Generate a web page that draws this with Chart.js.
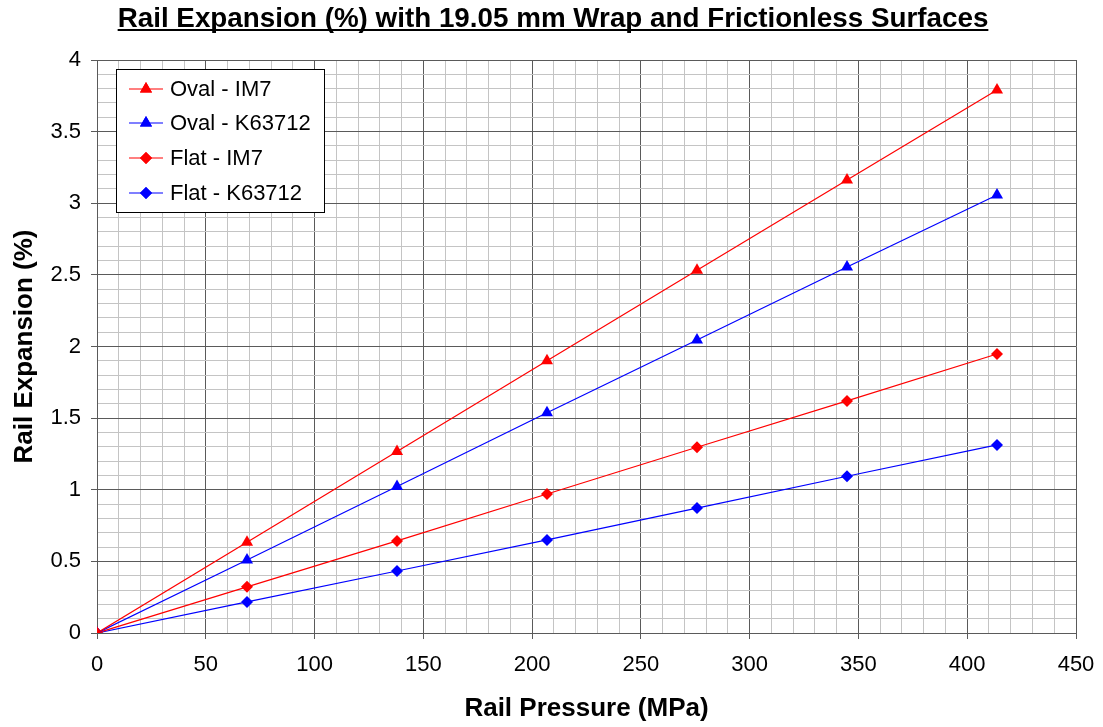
<!DOCTYPE html>
<html>
<head>
<meta charset="utf-8">
<script src="https://cdn.jsdelivr.net/npm/chart.js@4.4.1/dist/chart.umd.min.js"></script>
<style>
html,body{margin:0;padding:0;background:#fff;}
#wrap{width:1103px;height:727px;}
</style>
</head>
<body>
<div id="wrap"><canvas id="c" width="1103" height="727"></canvas></div>
<script>
const pressures = [0, 68.95, 137.9, 206.84, 275.79, 344.74, 413.69];
const ovalIM7 = [0, 0.633, 1.267, 1.90, 2.533, 3.163, 3.79];
const ovalK63712 = [0, 0.51, 1.023, 1.537, 2.045, 2.555, 3.058];
const flatIM7 = [0, 0.322, 0.643, 0.970, 1.297, 1.620, 1.948];
const flatK63712 = [0, 0.217, 0.433, 0.650, 0.872, 1.094, 1.313];
const seriesNames = ['Oval - IM7', 'Oval - K63712', 'Flat - IM7', 'Flat - K63712'];
const titleText = 'Rail Expansion (%) with 19.05 mm Wrap and Frictionless Surfaces';
const xTitle = 'Rail Pressure (MPa)';
const yTitle = 'Rail Expansion (%)';

const FONT = 'Liberation Sans, Arial, sans-serif';
function pts(arr){ return arr.map((v,i)=>({x:pressures[i], y:v})); }
function ds(label, data, color, style){
  return {label, data: pts(data), borderColor: color, backgroundColor: color,
    borderWidth: 1.2, pointStyle: style, pointRadius: style==='triangle'?7:6,
    pointBorderWidth: 0, pointHoverRadius: 6, tension: 0, fill: false};
}

const legendPlugin = {
  id: 'boxLegend',
  afterDatasetsDraw(chart){
    const ctx = chart.ctx;
    const x0 = 116, y0 = 69, w = 208, h = 143;
    ctx.save();
    ctx.fillStyle = '#fff';
    ctx.fillRect(x0, y0, w, h);
    ctx.strokeStyle = '#000';
    ctx.lineWidth = 1;
    ctx.strokeRect(x0+0.5, y0+0.5, w, h);
    const ys = [89, 123, 158, 193];
    chart.data.datasets.forEach((d, i) => {
      const y = ys[i];
      ctx.strokeStyle = d.borderColor;
      ctx.lineWidth = 1.2;
      ctx.beginPath(); ctx.moveTo(129, y); ctx.lineTo(163, y); ctx.stroke();
      ctx.fillStyle = d.backgroundColor;
      Chart.helpers.drawPoint(ctx, {pointStyle: d.pointStyle, radius: d.pointRadius, borderWidth: 0}, 146, y);
      ctx.fill();
      ctx.fillStyle = '#000';
      ctx.font = '22px ' + FONT;
      ctx.textBaseline = 'middle';
      ctx.textAlign = 'left';
      ctx.fillText(d.label, 170, y + 1);
    });
    ctx.restore();
  }
};

const titlePlugin = {
  id: 'ulTitle',
  afterDraw(chart){
    const ctx = chart.ctx;
    ctx.save();
    ctx.font = 'bold 27.8px ' + FONT;
    ctx.fillStyle = '#000';
    ctx.textAlign = 'center';
    ctx.textBaseline = 'alphabetic';
    const cx = 553, by = 27;
    ctx.fillText(titleText, cx, by);
    const tw = ctx.measureText(titleText).width;
    ctx.fillRect(cx - tw/2, by + 2, tw, 2);
    ctx.restore();
  }
};

new Chart(document.getElementById('c'), {
  type: 'line',
  data: { datasets: [
    ds(seriesNames[0], ovalIM7, '#ff0000', 'triangle'),
    ds(seriesNames[1], ovalK63712, '#0000ff', 'triangle'),
    ds(seriesNames[2], flatIM7, '#ff0000', 'rectRot'),
    ds(seriesNames[3], flatK63712, '#0000ff', 'rectRot')
  ]},
  options: {
    responsive: false,
    animation: false,
    layout: { padding: { top: 60, right: 27, left: 0, bottom: 0 } },
    plugins: { legend: { display: false }, title: { display: false }, tooltip: { enabled: false } },
    scales: {
      x: {
        type: 'linear', min: 0, max: 450,
        afterFit(s){ s.height = 94; s.paddingRight = 0; s.paddingLeft = 0; },
        ticks: { stepSize: 10, autoSkip: false, maxRotation: 0, color: '#000',
          font: { family: FONT, size: 22 }, padding: 13,
          callback: v => (Math.round(v) % 50 === 0 ? String(Math.round(v)) : '') },
        grid: { color: c => (Math.round(c.tick.value) % 50 === 0 ? '#5a5a5a' : '#c4c4c4'),
          lineWidth: 1, tickLength: 6,
          tickColor: c => (Math.round(c.tick.value) % 50 === 0 ? '#5a5a5a' : 'rgba(0,0,0,0)') },
        border: { color: '#5a5a5a', width: 1 },
        title: { display: true, text: xTitle, color: '#000', font: { family: FONT, size: 26, weight: 'bold' }, padding: { top: 4, bottom: 3 } }
      },
      y: {
        type: 'linear', min: 0, max: 4,
        afterFit(s){ s.width = 97; s.paddingTop = 0; s.paddingBottom = 0; },
        ticks: { stepSize: 0.1, autoSkip: false, color: '#000',
          font: { family: FONT, size: 22 }, padding: 10,
          callback: v => { const t = Math.round(v*10); return t % 5 === 0 ? String(t/10) : ''; } },
        grid: { color: c => (Math.round(c.tick.value*10) % 5 === 0 ? '#5a5a5a' : '#c4c4c4'),
          lineWidth: 1, tickLength: 6,
          tickColor: c => (Math.round(c.tick.value*10) % 5 === 0 ? '#5a5a5a' : 'rgba(0,0,0,0)') },
        border: { color: '#5a5a5a', width: 1 },
        title: { display: true, text: yTitle, color: '#000', font: { family: FONT, size: 26, weight: 'bold' }, padding: { top: 9, bottom: 4 } }
      }
    }
  },
  plugins: [legendPlugin, titlePlugin]
});
</script>
</body>
</html>
